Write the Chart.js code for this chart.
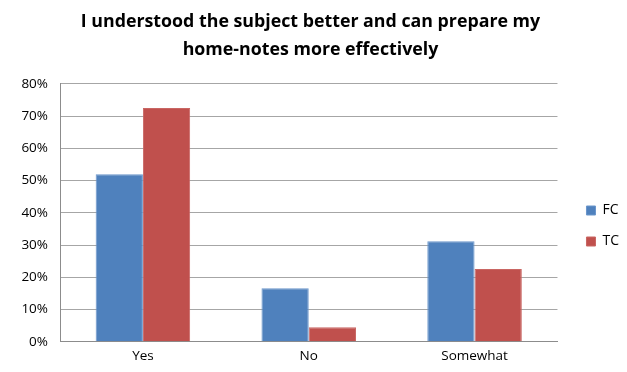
<!DOCTYPE html>
<html>
<head>
<meta charset="utf-8">
<script src="https://cdn.jsdelivr.net/npm/chart.js@4"></script>
<style>
  html, body { margin: 0; padding: 0; background: #fff; }
  #wrap { width: 627px; height: 372px; }
</style>
</head>
<body>
<div id="wrap"><canvas id="surveyChart"></canvas></div>
<script>
const categories = ['Yes', 'No', 'Somewhat'];
const fcValues = [52, 16.6, 31.2];
const tcValues = [72.5, 4.5, 22.6];
const yTicks = [0, 10, 20, 30, 40, 50, 60, 70, 80];

// nudge the legend a bit right and down, beside the plot
const legendNudge = {
    id: 'legendNudge',
    afterLayout(chart) {
        const lg = chart.legend;
        if (!lg) return;
        lg.left += 12;
        lg.right += 12;
        lg.top += 41;
        lg.bottom += 41;
    }
};

const ctx = document.getElementById('surveyChart').getContext('2d');

new Chart(ctx, {
    type: 'bar',
    data: {
        labels: categories,
        datasets: [
            {
                label: 'FC',
                data: fcValues,
                backgroundColor: '#4F81BD',
                borderColor: '#6A96CB',
                borderWidth: 1
            },
            {
                label: 'TC',
                data: tcValues,
                backgroundColor: '#C0504D',
                borderColor: '#C96663',
                borderWidth: 1
            }
        ]
    },
    plugins: [legendNudge],
    options: {
        responsive: true,
        maintainAspectRatio: false,
        animation: false,
        layout: {
            padding: { left: 4, right: 10, top: 0, bottom: 2 }
        },
        datasets: {
            bar: { categoryPercentage: 0.57, barPercentage: 1 }
        },
        scales: {
            x: {
                grid: { display: false, drawTicks: false },
                border: { color: '#8C8C8C', width: 1 },
                ticks: {
                    color: '#000',
                    padding: 6,
                    font: { family: 'Open Sans', size: 13.5 }
                }
            },
            y: {
                min: 0,
                max: 80,
                afterBuildTicks: scale => {
                    scale.ticks = yTicks.map(v => ({ value: v }));
                },
                afterFit: scale => {
                    scale.width = 56;
                },
                grid: { color: '#A6A6A6', lineWidth: 1, drawTicks: false },
                border: { color: '#8C8C8C', width: 1 },
                ticks: {
                    color: '#000',
                    padding: 12,
                    font: { family: 'Open Sans', size: 13.5 },
                    callback: v => v + '%'
                }
            }
        },
        plugins: {
            title: {
                display: true,
                text: ['I understood the subject better and can prepare my', 'home-notes more effectively'],
                color: '#000',
                font: { family: 'Open Sans', size: 17.8, weight: 'bold', lineHeight: 1.57 },
                padding: { top: 8, bottom: 20 }
            },
            legend: {
                position: 'right',
                align: 'center',
                labels: {
                    color: '#000',
                    boxWidth: 9,
                    boxHeight: 9,
                    padding: 17,
                    font: { family: 'Open Sans', size: 14 }
                }
            },
            tooltip: { enabled: false }
        }
    }
});
</script>
</body>
</html>
